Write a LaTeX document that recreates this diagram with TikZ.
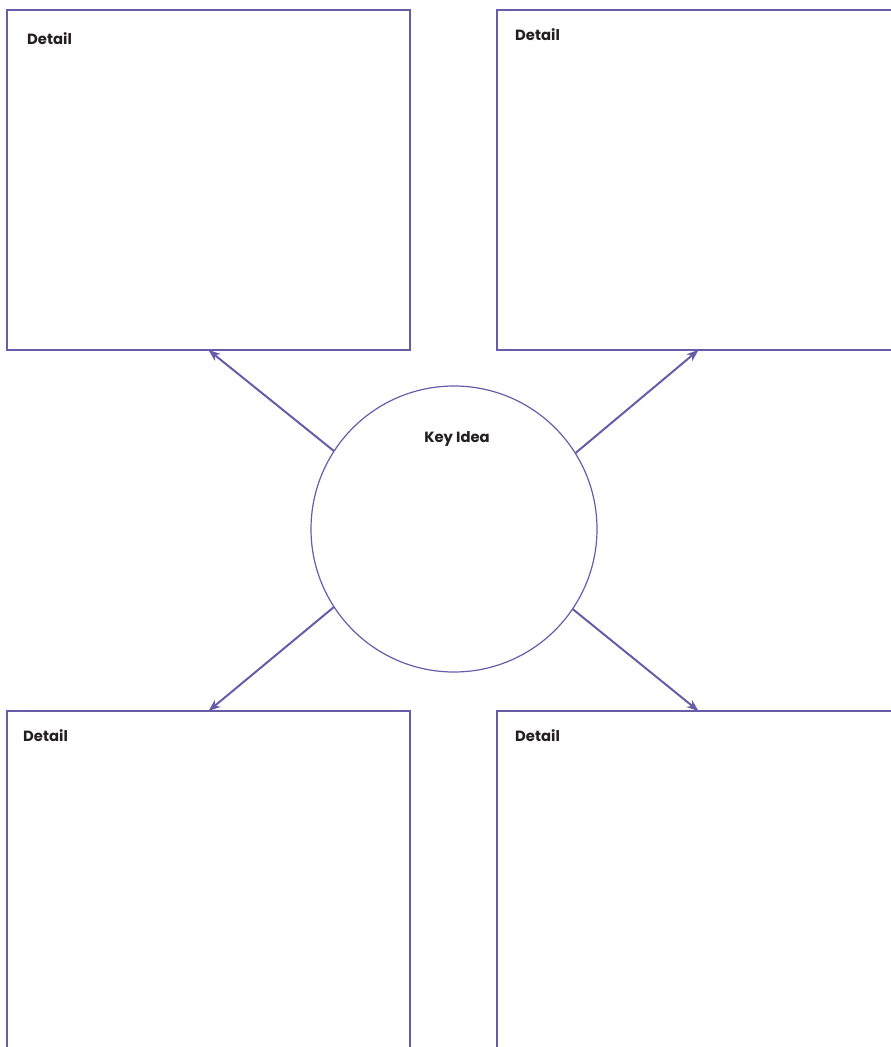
\documentclass[tikz,border=0pt]{standalone}
\usepackage{fontspec}
\setmainfont{Poppins}
\usetikzlibrary{arrows.meta}
\definecolor{frame}{RGB}{104,92,168}
\definecolor{ink}{RGB}{35,31,32}
\tikzset{
  box/.style={draw=frame, line width=2.4pt, minimum width=403pt, minimum height=340pt, inner sep=0pt, outer sep=0pt},
  keycirc/.style={draw=frame, line width=1.2pt, circle, minimum size=286pt, inner sep=0pt, outer sep=0pt},
  lbl/.style={text=ink, font=\bfseries\fontsize{14.8}{17}\selectfont, inner sep=0pt, anchor=base west},
  conn/.style={draw=frame, line width=2pt, -{Stealth[length=12pt,width=9pt]}}
}
\begin{document}
\begin{tikzpicture}[x=1pt,y=-1pt]
\useasboundingbox (0,0) rectangle (891,1047);
\clip (0,0) rectangle (891,1047);
\node[box] (tl) at (208.5,180) {};
\node[box] (tr) at (698.5,180) {};
\node[box] (bl) at (208.5,881) {};
\node[box] (br) at (698.5,881) {};
\node[keycirc] (key) at (454,529) {};
\node[lbl] (ltl) at (27,44) {Detail};
\node[lbl] (ltr) at (515,40) {Detail};
\node[lbl] (lbl) at (23,741) {Detail};
\node[lbl] (lbr) at (515,741) {Detail};
\node[lbl, anchor=base] (lkey) at (457,442) {Key Idea};
\draw[conn] (key.147.5) -- (tl.south);
\draw[conn] (key.32.5) -- (tr.south);
\draw[conn] (key.213.5) -- (bl.north);
\draw[conn] (key.326.5) -- (br.north);
\end{tikzpicture}
\end{document}
